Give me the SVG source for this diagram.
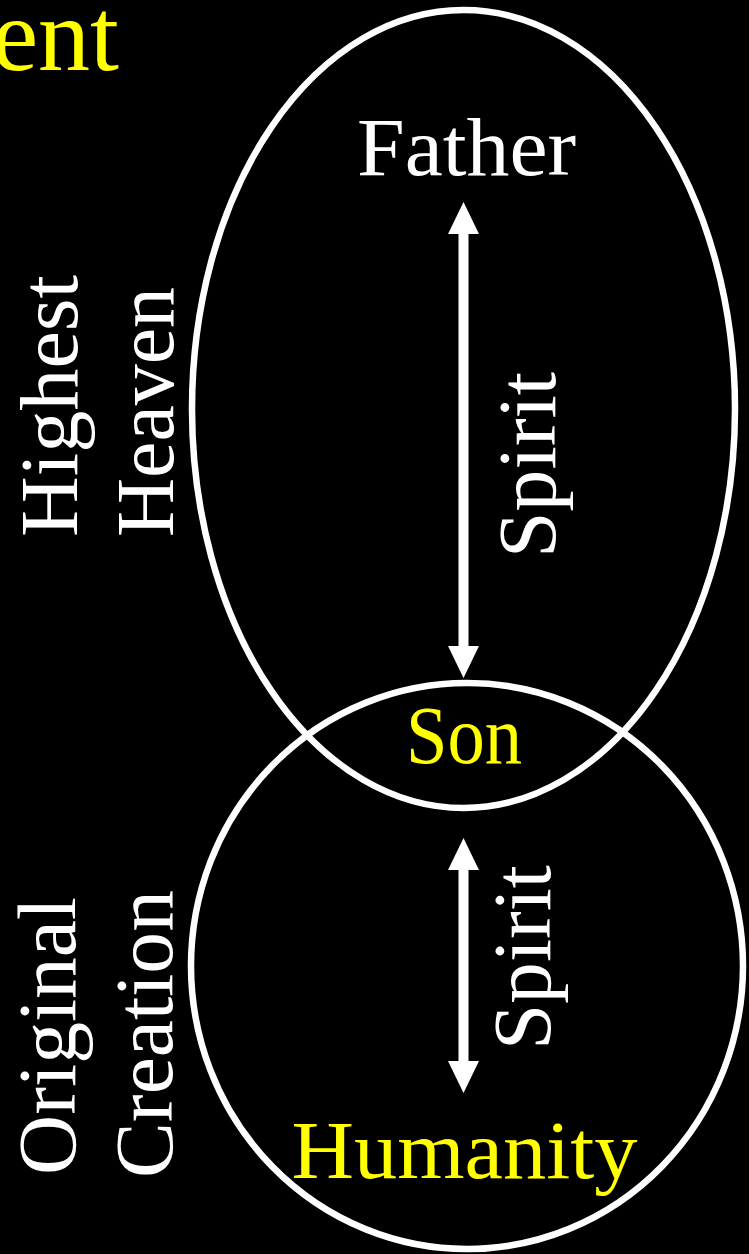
<svg xmlns="http://www.w3.org/2000/svg" width="749" height="1254" viewBox="0 0 749 1254">
  <style>
    .ring { fill: none; stroke: #ffffff; stroke-width: 6.5; }
    .lbl { font-family: "Liberation Serif", "Times New Roman", serif; font-size: 82px; text-anchor: middle; }
    .w { fill: #ffffff; }
    .y { fill: #ffff00; }
    .shaft { stroke: #ffffff; stroke-width: 10; }
  </style>
  <defs>
    <marker id="head" markerUnits="userSpaceOnUse" markerWidth="32" markerHeight="31" refX="0" refY="15.5" orient="auto-start-reverse" viewBox="0 0 32 31">
      <path d="M0,0 L32,15.5 L0,31 z" fill="#ffffff"/>
    </marker>
  </defs>
  <rect x="0" y="0" width="749" height="1254" fill="#000000"/>

  <g id="title">
    <text x="119" y="70" font-family="'Liberation Serif', 'Times New Roman', serif" font-size="104" fill="#ffff00" text-anchor="end">ent</text>
  </g>

  <g id="highest-heaven">
    <ellipse class="ring" cx="463.5" cy="409" rx="271.5" ry="399"/>
    <text class="lbl w" transform="translate(77,406) rotate(-90)" textLength="262" lengthAdjust="spacingAndGlyphs">Highest</text>
    <text class="lbl w" transform="translate(173,412) rotate(-90)" textLength="250" lengthAdjust="spacingAndGlyphs">Heaven</text>
  </g>

  <g id="original-creation">
    <ellipse class="ring" cx="467" cy="966" rx="276" ry="283"/>
    <text class="lbl w" transform="translate(75,1036) rotate(-90)" textLength="278" lengthAdjust="spacingAndGlyphs">Original</text>
    <text class="lbl w" transform="translate(172,1034) rotate(-90)" textLength="288" lengthAdjust="spacingAndGlyphs">Creation</text>
  </g>

  <g id="father">
    <text class="lbl w" x="466.5" y="175" textLength="219" lengthAdjust="spacingAndGlyphs">Father</text>
  </g>

  <g id="son">
    <text class="lbl y" x="464" y="763" textLength="116" lengthAdjust="spacingAndGlyphs">Son</text>
  </g>

  <g id="humanity">
    <text class="lbl y" x="464.5" y="1178" textLength="346" lengthAdjust="spacingAndGlyphs">Humanity</text>
  </g>

  <g id="connectors">
    <line class="shaft" x1="463.5" y1="234" x2="463.5" y2="646" marker-start="url(#head)" marker-end="url(#head)"/>
    <text class="lbl w" transform="translate(555,465) rotate(-90)" textLength="186" lengthAdjust="spacingAndGlyphs">Spirit</text>
    <line class="shaft" x1="463.5" y1="870" x2="463.5" y2="1061" marker-start="url(#head)" marker-end="url(#head)"/>
    <text class="lbl w" transform="translate(550,957.5) rotate(-90)" textLength="185" lengthAdjust="spacingAndGlyphs">Spirit</text>
  </g>
</svg>
